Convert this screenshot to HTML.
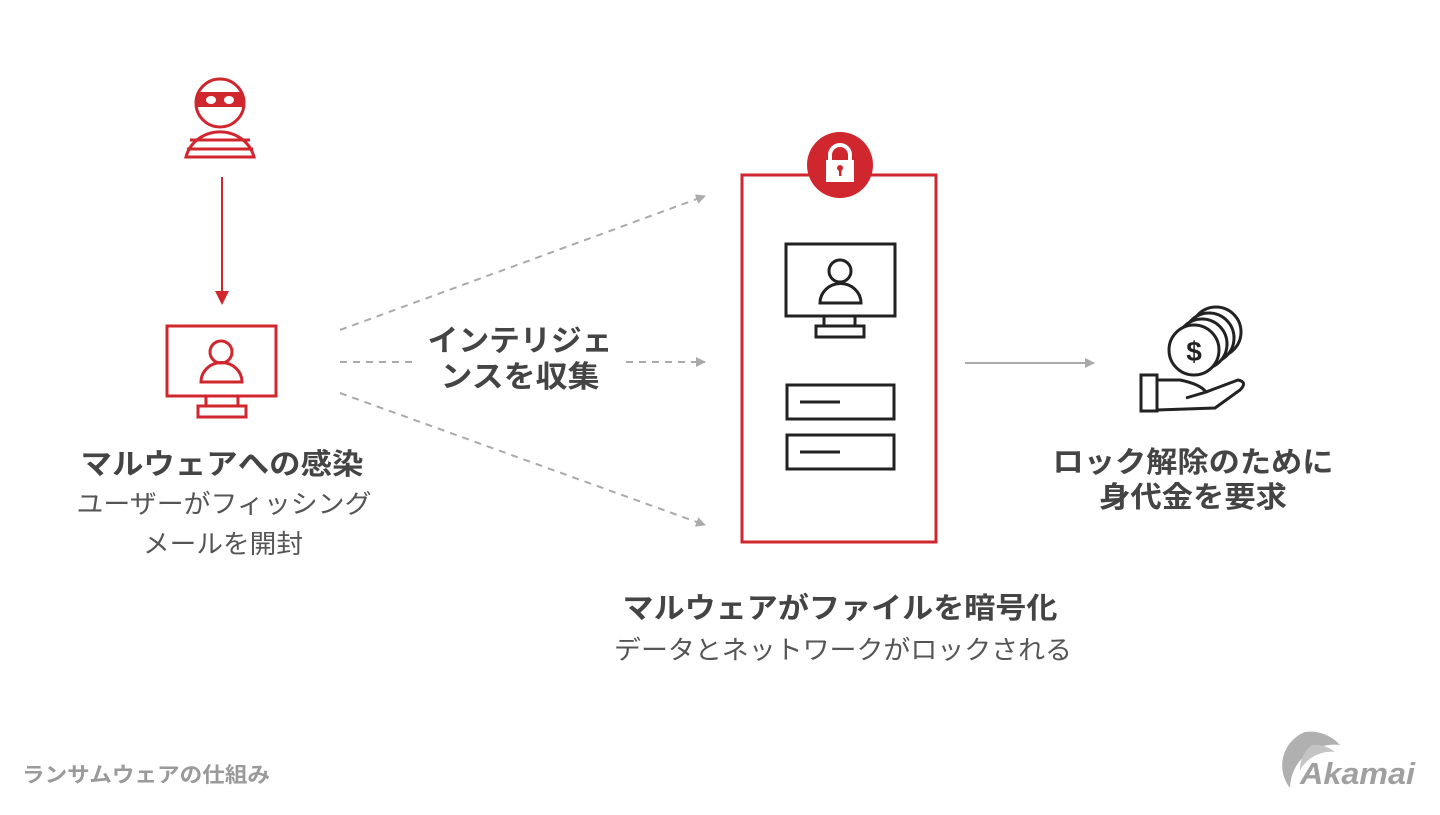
<!DOCTYPE html>
<html><head><meta charset="utf-8"><style>
body{margin:0;background:#fff;}
svg text{font-family:"Liberation Sans","Noto Sans CJK JP",sans-serif;}
</style></head><body>
<svg width="1440" height="810" viewBox="0 0 1440 810" xmlns="http://www.w3.org/2000/svg">
<defs>
<marker id="ga" markerWidth="10" markerHeight="10" refX="9" refY="5" orient="auto" markerUnits="userSpaceOnUse"><path d="M0,0 L10,5 L0,10 z" fill="#aaa"/></marker>
</defs>
<!-- thief -->
<g stroke="#d0262e" stroke-width="3" fill="none">
<circle cx="220" cy="103" r="24"/>
<path d="M186,157 A35,33 0 0 1 254,157 Z"/>
<line x1="190" y1="140" x2="250" y2="140"/><line x1="187" y1="149" x2="253" y2="149"/>
</g>
<rect x="197" y="92" width="46" height="15" fill="#d0262e"/>
<ellipse cx="211" cy="100" rx="5" ry="4" fill="#fff"/><ellipse cx="229" cy="100" rx="5" ry="4" fill="#fff"/>
<line x1="222" y1="177" x2="222" y2="292" stroke="#d0262e" stroke-width="2"/>
<path d="M215,291 L229,291 L222,305 z" fill="#d0262e"/>
<!-- red monitor -->
<g stroke="#d0262e" stroke-width="3" fill="none">
<rect x="167" y="326" width="109" height="70"/>
<rect x="206" y="396" width="32" height="10"/>
<rect x="198" y="406" width="48" height="11"/>
<circle cx="221" cy="352" r="11"/>
<path d="M201,382 A20,19 0 0 1 242,382 Z"/>
</g>
<text x="222" y="474" font-size="29" font-weight="bold" fill="#444" text-anchor="middle" textLength="283" lengthAdjust="spacingAndGlyphs">マルウェアへの感染</text>
<text x="224" y="513" font-size="26" fill="#555" text-anchor="middle" textLength="295" lengthAdjust="spacingAndGlyphs">ユーザーがフィッシング</text>
<text x="223" y="553" font-size="26" fill="#555" text-anchor="middle" textLength="160" lengthAdjust="spacingAndGlyphs">メールを開封</text>
<!-- dashed -->
<g stroke="#aaa" stroke-width="2" stroke-dasharray="7,6" marker-end="url(#ga)">
<line x1="340" y1="330" x2="705" y2="196"/>
<line x1="340" y1="362" x2="705" y2="362"/>
<line x1="340" y1="393" x2="705" y2="525"/>
</g>
<rect x="415" y="318" width="210" height="76" fill="#fff"/>
<text x="520" y="351" font-size="30" font-weight="bold" fill="#444" text-anchor="middle" textLength="185" lengthAdjust="spacingAndGlyphs">インテリジェ</text>
<text x="520" y="387" font-size="30" font-weight="bold" fill="#444" text-anchor="middle" textLength="159" lengthAdjust="spacingAndGlyphs">ンスを収集</text>
<!-- red box -->
<rect x="742" y="175" width="194" height="367" fill="none" stroke="#d0262e" stroke-width="3"/>
<circle cx="840" cy="165" r="33" fill="#d0262e"/>
<rect x="826" y="160" width="28" height="22" fill="#fff"/>
<path d="M830,161 v-6 a10,10 0 0 1 20,0 v6" fill="none" stroke="#fff" stroke-width="4"/>
<circle cx="840" cy="168" r="3" fill="#d0262e"/><rect x="839" y="168" width="2.5" height="8" fill="#d0262e"/>
<g stroke="#222" stroke-width="3" fill="none">
<rect x="786" y="244" width="109" height="72"/>
<rect x="824" y="316" width="31" height="10"/>
<rect x="816" y="326" width="48" height="11"/>
<circle cx="840" cy="271" r="11"/>
<path d="M820,303 A20,19 0 0 1 861,303 Z"/>
<rect x="787" y="385" width="107" height="34"/>
<rect x="787" y="435" width="107" height="34"/>
<line x1="800" y1="402" x2="840" y2="402"/>
<line x1="800" y1="452" x2="840" y2="452"/>
</g>
<text x="840" y="618" font-size="29" font-weight="bold" fill="#444" text-anchor="middle" textLength="435" lengthAdjust="spacingAndGlyphs">マルウェアがファイルを暗号化</text>
<text x="843" y="659" font-size="26" fill="#555" text-anchor="middle" textLength="458" lengthAdjust="spacingAndGlyphs">データとネットワークがロックされる</text>
<line x1="965" y1="363" x2="1094" y2="363" stroke="#aaa" stroke-width="2" marker-end="url(#ga)"/>
<!-- hand/coins -->
<g stroke="#222" stroke-width="3" fill="#fff">
<circle cx="1216" cy="332" r="25"/>
<circle cx="1209" cy="338" r="25"/>
<circle cx="1202" cy="344" r="25"/>
<circle cx="1194" cy="350" r="25"/>
<rect x="1141" y="375" width="16" height="36"/>
<path d="M1157,380 L1180,380 Q1200,384 1206,392 L1186,398 M1206,392 L1238,380 Q1248,382 1240,390 L1215,408 L1157,410" fill="none"/>
</g>
<text x="1194" y="361" font-size="28" font-weight="bold" fill="#222" text-anchor="middle">$</text>
<text x="1193" y="472" font-size="29" font-weight="bold" fill="#444" text-anchor="middle" textLength="281" lengthAdjust="spacingAndGlyphs">ロック解除のために</text>
<text x="1193" y="507" font-size="29" font-weight="bold" fill="#444" text-anchor="middle" textLength="188" lengthAdjust="spacingAndGlyphs">身代金を要求</text>
<text x="22" y="782" font-size="21" font-weight="bold" fill="#9a9a9a" textLength="248" lengthAdjust="spacingAndGlyphs">ランサムウェアの仕組み</text>
<!-- akamai -->
<path d="M1305,732 A36,36 0 0 0 1290,788 A44,44 0 0 1 1340,745 A40,40 0 0 0 1305,732 Z" fill="#b0b0b0"/>
<path d="M1312,745 A30,30 0 0 0 1300,770 A36,36 0 0 1 1335,752 A32,32 0 0 0 1312,745 Z" fill="#c4c4c4"/>
<text x="1300" y="784" font-size="31" font-weight="bold" font-style="italic" fill="#a0a0a0" textLength="115" lengthAdjust="spacingAndGlyphs">Akamai</text>
</svg>
</body></html>
